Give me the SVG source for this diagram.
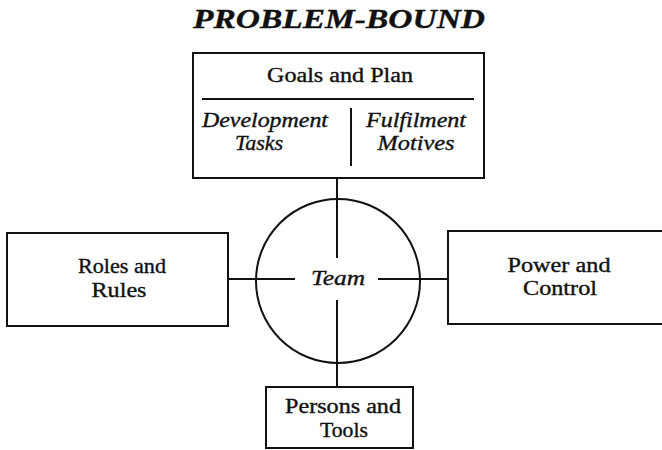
<svg xmlns="http://www.w3.org/2000/svg" width="662" height="450" viewBox="0 0 662 450">
<style>
.box{fill:#fff;stroke:#111;stroke-width:2}
.ln{stroke:#111;stroke-width:2;fill:none}
text{font-family:"Liberation Serif","Times New Roman",serif;fill:#111;stroke:#111;stroke-width:0.35;font-size:20px}
.c{text-anchor:middle}
.i{font-style:italic}
</style>
<rect width="662" height="450" fill="#fff"/>
<text id="title" x="339" y="28" class="c" style="font-weight:bold;font-style:italic;font-size:28px" textLength="292" lengthAdjust="spacingAndGlyphs">PROBLEM-BOUND</text>
<g id="connectors">
<circle class="ln" cx="338" cy="281" r="82"/>
<line class="ln" x1="337" y1="178" x2="337" y2="258"/>
<line class="ln" x1="337" y1="300" x2="337" y2="387"/>
<line class="ln" x1="228" y1="279" x2="295" y2="279"/>
<line class="ln" x1="378" y1="279" x2="448" y2="279"/>
</g>
<g id="team">
<text x="338" y="285" class="c i" textLength="54" lengthAdjust="spacingAndGlyphs">Team</text>
</g>
<g id="goals">
<rect class="box" x="193" y="53" width="291" height="125"/>
<line class="ln" x1="202" y1="99" x2="474" y2="99"/>
<line class="ln" x1="351" y1="108" x2="351" y2="166"/>
<text x="340" y="82" class="c" textLength="146" lengthAdjust="spacingAndGlyphs">Goals and Plan</text>
<text x="265" y="127" class="c i" textLength="126" lengthAdjust="spacingAndGlyphs">Development</text>
<text x="259" y="150" class="c i" textLength="48" lengthAdjust="spacingAndGlyphs">Tasks</text>
<text x="416" y="127" class="c i" textLength="100" lengthAdjust="spacingAndGlyphs">Fulfilment</text>
<text x="416" y="150" class="c i" textLength="77" lengthAdjust="spacingAndGlyphs">Motives</text>
</g>
<g id="roles">
<rect class="box" x="7" y="233" width="221" height="93"/>
<text x="122" y="273" class="c" textLength="88" lengthAdjust="spacingAndGlyphs">Roles and</text>
<text x="119" y="297" class="c" textLength="55" lengthAdjust="spacingAndGlyphs">Rules</text>
</g>
<g id="power">
<rect class="box" x="448" y="231" width="220" height="93"/>
<text x="559" y="272" class="c" textLength="103" lengthAdjust="spacingAndGlyphs">Power and</text>
<text x="560" y="295" class="c" textLength="74" lengthAdjust="spacingAndGlyphs">Control</text>
</g>
<g id="persons">
<rect class="box" x="266" y="387" width="147" height="61"/>
<text x="343" y="413" class="c" textLength="116" lengthAdjust="spacingAndGlyphs">Persons and</text>
<text x="344" y="437" class="c" textLength="48" lengthAdjust="spacingAndGlyphs">Tools</text>
</g>
</svg>
